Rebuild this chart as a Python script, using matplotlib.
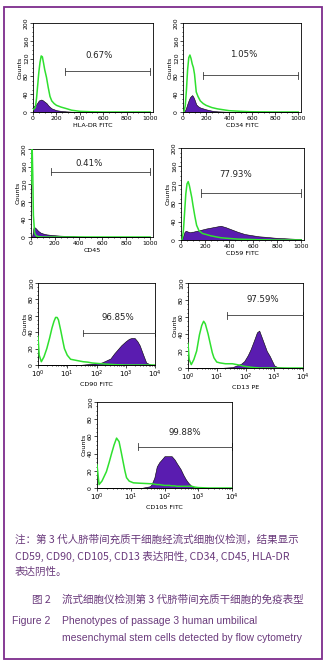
import matplotlib
matplotlib.use('Agg')
import matplotlib.pyplot as plt
from matplotlib.ticker import AutoMinorLocator, LogLocator, NullFormatter, FixedLocator
from matplotlib.patches import Rectangle

W, H = 327, 668   # output size in pixels

# ---- histogram values ----
# HLA-DR FITC (linear channels)
hla_x = [0, 20, 30, 40, 50, 60, 70, 80, 90, 100, 115, 130, 145, 160, 180, 200, 240, 280, 330, 400, 500, 600, 800, 1000]
hla_iso = [5, 10, 30, 60, 90, 112, 126, 124, 110, 95, 78, 55, 35, 25, 19, 15, 11, 8, 4, 1.5, 0.5, 0, 0, 0]
hla_pos = [12, 15, 18, 22, 26, 27, 28, 27, 25, 23, 20, 15, 11, 8, 6, 4, 2.5, 1.5, 0.7, 0.2, 0, 0, 0, 0]

# CD34 FITC
cd34_x = [0, 10, 20, 30, 40, 50, 60, 70, 80, 90, 100, 115, 130, 150, 175, 200, 250, 300, 400, 500, 600, 800, 1000]
cd34_iso = [0, 2, 15, 50, 95, 122, 128, 120, 108, 100, 85, 45, 35, 25, 19, 15, 10, 7, 3, 1.5, 0.5, 0, 0]
cd34_pos = [0, 1, 5, 12, 20, 27, 33, 36, 38, 34, 28, 17, 13, 10, 8, 6, 3, 1.5, 0.5, 0, 0, 0, 0]

# CD45
cd45_x = [0, 5, 10, 15, 20, 25, 30, 40, 50, 60, 80, 100, 130, 160, 200, 250, 300, 350, 400, 500, 600, 800, 1000]
cd45_iso = [120, 200, 200, 140, 50, 30, 10, 4, 2, 1, 0.5, 0, 0, 0, 0, 0, 0, 0, 0, 0, 0, 0, 0]
cd45_pos = [0, 0, 2, 10, 20, 22, 22, 20, 17, 14, 10, 8, 6, 5, 4, 3, 2.5, 2, 1, 0, 0, 0, 0]

# CD59 FITC
cd59_x = [0, 10, 20, 30, 40, 50, 60, 70, 80, 90, 100, 115, 130, 150, 180, 210, 250, 290, 330, 370, 420, 470, 530, 600, 650, 700, 780, 850, 920, 1000]
cd59_iso = [0, 2, 20, 60, 100, 122, 127, 118, 105, 92, 75, 52, 32, 20, 14, 12, 9, 7, 5, 4, 3, 2, 1.5, 1, 0.5, 0.5, 0, 0, 0, 0]
cd59_pos = [0, 3, 10, 18, 20, 19, 18, 17, 17, 18, 18, 19, 20, 21, 23, 25, 27, 29, 31, 28, 23, 18, 13, 10, 8, 7, 5, 4, 3, 2]

# CD90 FITC (log decades)
cd90_x = [1, 1.1, 1.3, 1.6, 2, 2.5, 3, 3.5, 4, 4.5, 5, 6, 7, 8, 10, 13, 18, 25, 35, 50, 70, 100, 150, 200, 300, 400, 500, 700, 1000, 1300, 1600, 2000, 2500, 3000, 4000, 5000, 7000, 10000]
cd90_iso = [35, 12, 4, 10, 20, 33, 45, 53, 58, 58, 55, 42, 30, 20, 12, 7, 6, 5, 4, 3.5, 2.5, 2, 1.5, 1.2, 0.8, 0.5, 0.3, 0.2, 0, 0, 0, 0, 0, 0, 0, 0, 0, 0]
cd90_pos = [0, 0, 0, 0, 0, 0, 0, 0, 0, 0, 0, 0, 0, 0, 0, 0, 0, 0, 0.5, 1, 1.5, 2, 3, 5, 8, 14, 18, 24, 29, 32, 33, 33, 29, 24, 12, 3, 0.5, 0]

# CD13 PE
cd13_x = [1, 1.1, 1.3, 1.6, 2, 2.5, 3, 3.5, 4, 5, 6, 7, 8, 10, 13, 20, 35, 50, 70, 90, 120, 150, 200, 250, 300, 350, 450, 550, 700, 850, 1000, 1300, 2000, 4000, 10000]
cd13_iso = [29, 10, 4, 10, 20, 39, 50, 55, 52, 40, 28, 18, 12, 7, 6, 5, 5, 4, 3, 2, 1.5, 1, 0.5, 0.3, 0, 0, 0, 0, 0, 0, 0, 0, 0, 0, 0]
cd13_pos = [0, 0, 0, 0, 0, 0, 0, 0, 0, 0, 0, 0, 0, 0, 0, 0.5, 1, 3, 5, 8, 15, 22, 33, 42, 44, 38, 28, 20, 14, 8, 3, 1, 0.5, 0, 0]

# CD105 FITC
cd105_x = [1, 1.15, 1.4, 1.9, 2.3, 2.7, 3.2, 3.8, 4.5, 5.2, 5.9, 6.7, 7.5, 9, 12, 20, 37, 41, 50, 59, 70, 82, 100, 116, 140, 163, 200, 230, 300, 365, 430, 510, 640, 800, 1000, 2000, 5000, 10000]
cd105_iso = [27, 4, 8, 19, 30, 40, 50, 58, 54, 42, 31, 20, 12, 8, 6, 5.5, 5, 5, 4.5, 4, 4, 3.5, 3, 3, 3, 2.5, 2.5, 2, 2, 2, 2, 2, 2, 1, 0.5, 0, 0, 0]
cd105_pos = [0, 0, 0, 0, 0, 0, 0, 0, 0, 0, 0, 0, 0, 0, 0, 0, 2, 4, 12, 25, 30, 33, 37, 37, 37, 37, 33, 29, 22, 15, 10, 6, 2, 0.5, 0, 0, 0, 0]

# gates: start, end, height, percent text
gates = {
    'hla': (275, 1000, 92, '0.67%'),
    'cd34': (170, 1000, 83, '1.05%'),
    'cd45': (164, 1000, 148, '0.41%'),
    'cd59': (170, 1000, 102, '77.93%'),
    'cd90': (35, 10000, 39, '96.85%'),
    'cd13': (23, 10000, 62, '97.59%'),
    'cd105': (16, 10000, 48, '99.88%'),
}

GREEN = '#2fe02f'
PURPLE = '#5a1cb0'
FRAME = '#7d2c8c'
TEXT = '#6a3a7c'
TICK_FS = 4.4


def px_axes(fig, left, top, right, bottom):
    """axes placed by pixel box of the reference"""
    return fig.add_axes([left / W, 1 - bottom / H, (right - left) / W, (bottom - top) / H])


def draw_panel(ax, x, iso, pos, gate, xlabel, log=False, ymax=200, text_xy=None):
    ax.fill_between(x, pos, color=PURPLE, edgecolor='black', linewidth=0.4, zorder=2)
    ax.plot(x, iso, color=GREEN, lw=1.1, zorder=3)
    ax.set_ylim(0, ymax)
    ax.set_yticks(range(0, ymax + 1, ymax // 5))
    ax.yaxis.set_minor_locator(AutoMinorLocator(4))
    if log:
        ax.set_xscale('log')
        ax.set_xlim(1, 1e4)
        ax.xaxis.set_major_locator(FixedLocator([1, 10, 100, 1000, 10000]))
        ax.xaxis.set_minor_locator(LogLocator(base=10, subs=range(2, 10)))
        ax.xaxis.set_minor_formatter(NullFormatter())
    else:
        ax.set_xlim(0, 1024)
        ax.set_xticks(range(0, 1001, 200))
        ax.xaxis.set_minor_locator(AutoMinorLocator(4))
    ax.tick_params(which='both', direction='out', width=0.5, labelsize=TICK_FS, pad=1)
    if log:
        ax.tick_params(axis='x', labelsize=5)
    ax.tick_params(which='major', length=2)
    ax.tick_params(which='minor', length=1)
    ax.tick_params(axis='y', labelrotation=90)
    for lab in ax.get_yticklabels():
        lab.set_va('center')
    for s in ax.spines.values():
        s.set_linewidth(0.6)
    ax.set_xlabel(xlabel, fontsize=4.6, labelpad=1)
    ax.set_ylabel('Counts', fontsize=4.6, labelpad=1)

    # gate marker with caps
    g0, g1, gy, gtxt = gate
    cap = ymax * 0.04
    ax.plot([g0, g1], [gy, gy], color='#3a3a3a', lw=0.6, zorder=4, clip_on=False)
    ax.plot([g0, g0], [gy - cap, gy + cap], color='#3a3a3a', lw=0.6, clip_on=False)
    ax.plot([g1, g1], [gy - cap, gy + cap], color='#3a3a3a', lw=0.6, clip_on=False)
    ax.text(text_xy[0], text_xy[1], gtxt, fontsize=6.2, ha='center', va='center', color='#222222')


fig = plt.figure(figsize=(W / 100, H / 100), dpi=100)

ax = px_axes(fig, 33, 23, 153, 112)
draw_panel(ax, hla_x, hla_iso, hla_pos, gates['hla'], 'HLA-DR FITC', text_xy=(560, 128))
ax = px_axes(fig, 183, 23, 301, 112)
draw_panel(ax, cd34_x, cd34_iso, cd34_pos, gates['cd34'], 'CD34 FITC', text_xy=(525, 130))
ax = px_axes(fig, 31, 149, 153, 237)
draw_panel(ax, cd45_x, cd45_iso, cd45_pos, gates['cd45'], 'CD45', text_xy=(484, 168))
ax = px_axes(fig, 181, 148, 304, 240)
draw_panel(ax, cd59_x, cd59_iso, cd59_pos, gates['cd59'], 'CD59 FITC', text_xy=(455, 143))
ax = px_axes(fig, 38, 283, 155, 365)
draw_panel(ax, cd90_x, cd90_iso, cd90_pos, gates['cd90'], 'CD90 FITC', log=True, ymax=100, text_xy=(540, 58))
ax = px_axes(fig, 188, 283, 303, 368)
draw_panel(ax, cd13_x, cd13_iso, cd13_pos, gates['cd13'], 'CD13 PE', log=True, ymax=100, text_xy=(400, 81))
ax = px_axes(fig, 97, 402, 232, 488)
draw_panel(ax, cd105_x, cd105_iso, cd105_pos, gates['cd105'], 'CD105 FITC', log=True, ymax=100, text_xy=(400, 65))

# purple frame around the figure
fig.patches.append(Rectangle((4 / W, 1 - 659 / H), 318 / W, 652 / H, transform=fig.transFigure,
                             fill=False, edgecolor=FRAME, linewidth=1.3))

# notes and captions
cjk = ['Noto Sans CJK SC', 'DejaVu Sans']
fs = 7.6


def ftext(x, y, s, **kw):
    fig.text(x / W, 1 - y / H, s, fontsize=fs, color=TEXT, va='center', ha='left', family=cjk, **kw)


ftext(15, 540, '注：第 3 代人脐带间充质干细胞经流式细胞仪检测，结果显示')
ftext(15, 556, 'CD59, CD90, CD105, CD13 表达阳性, CD34, CD45, HLA-DR')
ftext(15, 572, '表达阴性。')
ftext(32, 600, '图 2')
ftext(62, 600, '流式细胞仪检测第 3 代脐带间充质干细胞的免疫表型')
fig.text(12 / W, 1 - 621 / H, 'Figure 2', fontsize=7.5, color=TEXT, va='center', family='Liberation Sans')
fig.text(62 / W, 1 - 621 / H, 'Phenotypes of passage 3 human umbilical', fontsize=7.5, color=TEXT,
         va='center', family='Liberation Sans')
fig.text(62 / W, 1 - 638 / H, 'mesenchymal stem cells detected by flow cytometry', fontsize=7.5, color=TEXT,
         va='center', family='Liberation Sans')

fig.savefig('out.png', dpi=100)
